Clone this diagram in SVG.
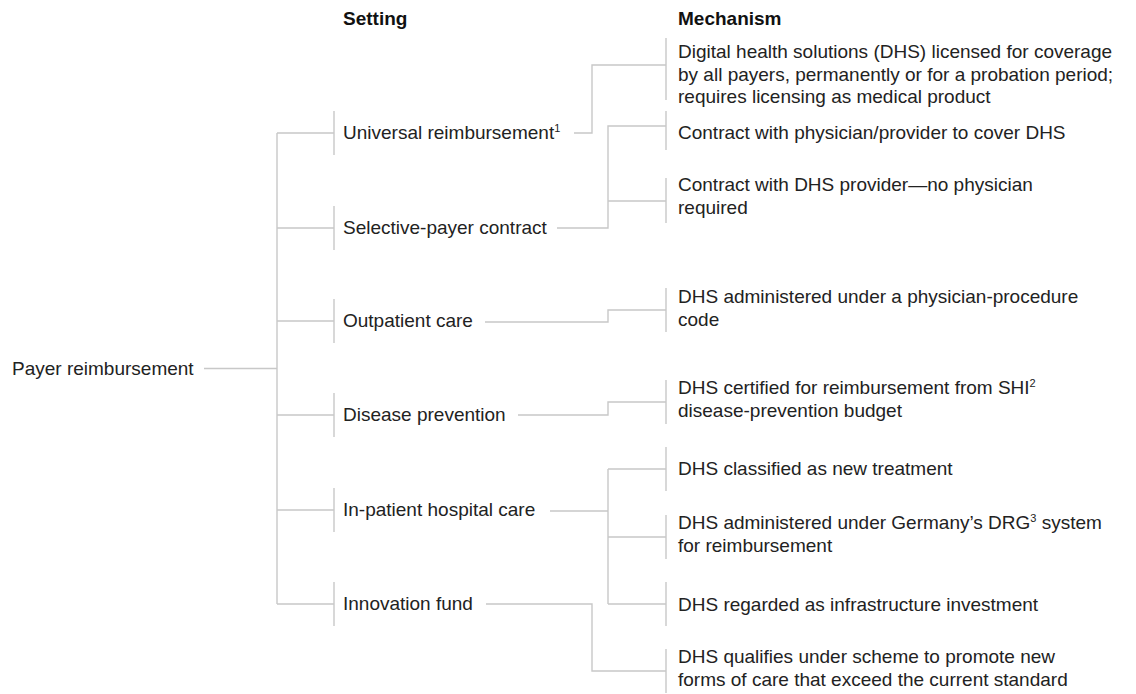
<svg xmlns="http://www.w3.org/2000/svg" width="1136" height="694" viewBox="0 0 1136 694">
<style>
  text { font-family: "Liberation Sans", Arial, sans-serif; font-size: 19px; fill: #222222; }
  .hdr { font-weight: bold; fill: #111111; }
  .sup { font-size: 11px; }
  .ln { fill: none; stroke: #c8c8c8; stroke-width: 1.4; }
</style>
<rect width="1136" height="694" fill="#ffffff"/>

<g id="headers">
  <text class="hdr" x="343" y="25">Setting</text>
  <text class="hdr" x="678" y="25">Mechanism</text>
</g>

<g id="connectors" class="ln">
  <path class="ln" d="M204 368.5H277"/>
  <path class="ln" d="M277 133V604"/>
  <path class="ln" d="M277 133H334M277 228H334M277 321H334M277 415H334M277 510H334M277 604H334"/>
  <path class="ln" d="M574 133H592V65H666"/>
  <path class="ln" d="M557 228H608V126H666M608 201H666"/>
  <path class="ln" d="M485 322H608V310H666"/>
  <path class="ln" d="M518 415H608V402H666"/>
  <path class="ln" d="M550 511H608M608 469V604M608 469H666M608 537H666M608 604H666"/>
  <path class="ln" d="M486 604H592V671H666"/>
</g>

<g id="root">
  <text x="12" y="375">Payer reimbursement</text>
</g>

<g id="setting-universal">
  <path class="ln" d="M334 111V155"/>
  <text x="343" y="139">Universal reimbursement<tspan class="sup" dy="-7">1</tspan></text>
</g>
<g id="setting-selective">
  <path class="ln" d="M334 206V250"/>
  <text x="343" y="234">Selective-payer contract</text>
</g>
<g id="setting-outpatient">
  <path class="ln" d="M334 299V343"/>
  <text x="343" y="327">Outpatient care</text>
</g>
<g id="setting-disease">
  <path class="ln" d="M334 393V437"/>
  <text x="343" y="421">Disease prevention</text>
</g>
<g id="setting-inpatient">
  <path class="ln" d="M334 488V532"/>
  <text x="343" y="516">In-patient hospital care</text>
</g>
<g id="setting-innovation">
  <path class="ln" d="M334 582V626"/>
  <text x="343" y="610">Innovation fund</text>
</g>

<g id="mech-licensed">
  <path class="ln" d="M666 38V100"/>
  <text x="678" y="58">Digital health solutions (DHS) licensed for coverage</text>
  <text x="678" y="80.5">by all payers, permanently or for a probation period;</text>
  <text x="678" y="103">requires licensing as medical product</text>
</g>
<g id="mech-physician">
  <path class="ln" d="M666 111V150"/>
  <text x="678" y="139">Contract with physician/provider to cover DHS</text>
</g>
<g id="mech-dhs-provider">
  <path class="ln" d="M666 178V223"/>
  <text x="678" y="191">Contract with DHS provider—no physician</text>
  <text x="678" y="213.5">required</text>
</g>
<g id="mech-procedure-code">
  <path class="ln" d="M666 288V332"/>
  <text x="678" y="303">DHS administered under a physician-procedure</text>
  <text x="678" y="325.5">code</text>
</g>
<g id="mech-shi">
  <path class="ln" d="M666 380V424"/>
  <text x="678" y="394">DHS certified for reimbursement from SHI<tspan class="sup" dy="-7">2</tspan></text>
  <text x="678" y="416.5">disease-prevention budget</text>
</g>
<g id="mech-new-treatment">
  <path class="ln" d="M666 447V491"/>
  <text x="678" y="475">DHS classified as new treatment</text>
</g>
<g id="mech-drg">
  <path class="ln" d="M666 515V559"/>
  <text x="678" y="529">DHS administered under Germany’s DRG<tspan class="sup" dy="-7">3</tspan><tspan dy="7"> system</tspan></text>
  <text x="678" y="551.5">for reimbursement</text>
</g>
<g id="mech-infrastructure">
  <path class="ln" d="M666 582V626"/>
  <text x="678" y="611">DHS regarded as infrastructure investment</text>
</g>
<g id="mech-new-care">
  <path class="ln" d="M666 649V693"/>
  <text x="678" y="663">DHS qualifies under scheme to promote new</text>
  <text x="678" y="685.5">forms of care that exceed the current standard</text>
</g>
</svg>
